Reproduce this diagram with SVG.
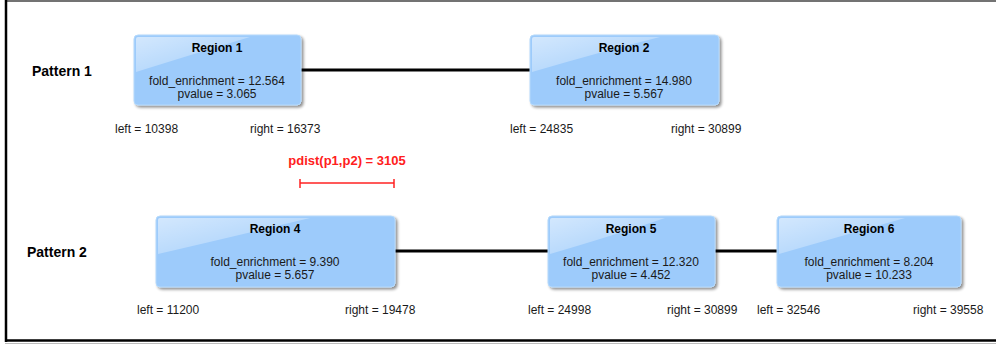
<svg xmlns="http://www.w3.org/2000/svg" width="996" height="345" viewBox="0 0 996 345">
<defs>
<linearGradient id="gloss" x1="0" y1="0" x2="1" y2="1">
<stop offset="0" stop-color="#ffffff" stop-opacity="0.55"/>
<stop offset="1" stop-color="#ffffff" stop-opacity="0.05"/>
</linearGradient>
<filter id="sh" x="-10%" y="-10%" width="130%" height="140%">
<feGaussianBlur in="SourceAlpha" stdDeviation="1.5"/>
<feOffset dx="2" dy="2"/>
<feComponentTransfer><feFuncA type="linear" slope="0.45"/></feComponentTransfer>
<feMerge><feMergeNode/><feMergeNode in="SourceGraphic"/></feMerge>
</filter>
</defs>
<style>
.box{fill:#9dcbfb;stroke:#b5d9fb;stroke-width:1;filter:url(#sh)}
.gl{fill:url(#gloss)}
.t{font-family:"Liberation Sans",Arial,sans-serif;font-size:12px;fill:#1a1a1a}
.b{font-weight:bold;fill:#000}
.c{text-anchor:middle}
.pat{font-family:"Liberation Sans",Arial,sans-serif;font-size:14px;font-weight:bold;fill:#000}
.edge{stroke:#000;stroke-width:3;fill:none}
.red{stroke:#ff2222;stroke-width:1.5;fill:none}
</style>
<rect x="0" y="0" width="996" height="345" fill="#ffffff"/>
<g id="frame">
<line x1="6" y1="1" x2="996" y2="1" stroke="#444" stroke-width="1.5"/>
<line x1="6" y1="0" x2="6" y2="342" stroke="#000" stroke-width="2.5"/>
<line x1="5" y1="340.5" x2="996" y2="340.5" stroke="#000" stroke-width="2.5"/>
<line x1="5" y1="343.5" x2="996" y2="343.5" stroke="#bbb" stroke-width="1"/>
</g>
<g id="connectors">
<line class="edge" x1="301" y1="70" x2="530" y2="70"/>
<line class="edge" x1="395" y1="251" x2="548" y2="251"/>
<line class="edge" x1="715" y1="251" x2="777" y2="251"/>
</g>
<g id="pattern1-label"><text class="pat" x="32" y="76">Pattern 1</text></g>
<g id="pattern2-label"><text class="pat" x="27" y="257">Pattern 2</text></g>
<g id="region1">
<rect class="box" x="134" y="35" width="167" height="70" rx="4"/>
<path class="gl" d="M136 39 Q136 37 138 37 L250 37 Q200 52 136 72 Z"/>
<text class="t b c" x="217" y="52">Region 1</text>
<text class="t c" x="217" y="85">fold_enrichment = 12.564</text>
<text class="t c" x="217" y="98">pvalue = 3.065</text>
<text class="t" x="115" y="133">left = 10398</text>
<text class="t" x="250" y="133">right = 16373</text>
</g>
<g id="region2">
<rect class="box" x="530" y="35" width="189" height="70" rx="4"/>
<path class="gl" d="M532 39 Q532 37 534 37 L660 37 Q600 52 532 72 Z"/>
<text class="t b c" x="624" y="52">Region 2</text>
<text class="t c" x="624" y="85">fold_enrichment = 14.980</text>
<text class="t c" x="624" y="98">pvalue = 5.567</text>
<text class="t" x="510" y="133">left = 24835</text>
<text class="t" x="671" y="133">right = 30899</text>
</g>
<g id="pdist">
<text class="t b c" x="347" y="165" style="font-size:13px;fill:#ff2020">pdist(p1,p2) = 3105</text>
<line class="red" x1="300" y1="183" x2="394" y2="183"/>
<line class="red" x1="300" y1="179" x2="300" y2="188"/>
<line class="red" x1="394" y1="179" x2="394" y2="188"/>
</g>
<g id="region4">
<rect class="box" x="156" y="216" width="239" height="71" rx="4"/>
<path class="gl" d="M158 220 Q158 218 160 218 L310 218 Q240 235 158 254 Z"/>
<text class="t b c" x="275" y="233">Region 4</text>
<text class="t c" x="275" y="266">fold_enrichment = 9.390</text>
<text class="t c" x="275" y="279">pvalue = 5.657</text>
<text class="t" x="137" y="314">left = 11200</text>
<text class="t" x="345" y="314">right = 19478</text>
</g>
<g id="region5">
<rect class="box" x="548" y="216" width="167" height="71" rx="4"/>
<path class="gl" d="M550 220 Q550 218 552 218 L665 218 Q615 235 550 254 Z"/>
<text class="t b c" x="631" y="233">Region 5</text>
<text class="t c" x="631" y="266">fold_enrichment = 12.320</text>
<text class="t c" x="631" y="279">pvalue = 4.452</text>
<text class="t" x="528" y="314">left = 24998</text>
<text class="t" x="667" y="314">right = 30899</text>
</g>
<g id="region6">
<rect class="box" x="777" y="216" width="184" height="71" rx="4"/>
<path class="gl" d="M779 220 Q779 218 781 218 L905 218 Q845 235 779 254 Z"/>
<text class="t b c" x="869" y="233">Region 6</text>
<text class="t c" x="869" y="266">fold_enrichment = 8.204</text>
<text class="t c" x="869" y="279">pvalue = 10.233</text>
<text class="t" x="757" y="314">left = 32546</text>
<text class="t" x="913" y="314">right = 39558</text>
</g>
</svg>
